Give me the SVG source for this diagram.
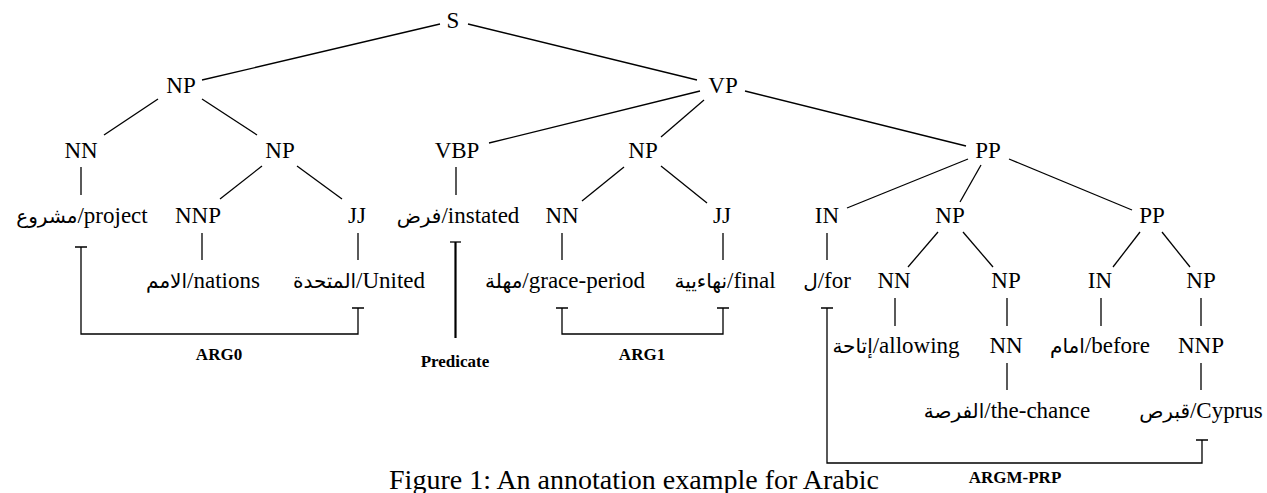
<svg xmlns="http://www.w3.org/2000/svg" width="1267" height="493" viewBox="0 0 1267 493">
<style>
.lbl{font-family:"Liberation Serif","Times New Roman",serif;font-size:23px;fill:#000;text-anchor:middle}
.ar{font-family:"DejaVu Sans",sans-serif;font-size:20px}
.role{font-family:"Liberation Serif","Times New Roman",serif;font-size:17px;font-weight:bold;fill:#000;text-anchor:middle}
.cap{font-family:"Liberation Serif","Times New Roman",serif;font-size:28px;fill:#000;text-anchor:middle}
.e{stroke:#000;stroke-width:1.3;fill:none}
.b{stroke:#000;stroke-width:1.3;fill:none}
</style>
<rect width="1267" height="493" fill="#fff"/>
<g id="connectors">
<line class="e" x1="440" y1="24" x2="202" y2="80"/>
<line class="e" x1="468" y1="24" x2="697" y2="80"/>
<line class="e" x1="158" y1="99" x2="104" y2="135"/>
<line class="e" x1="202" y1="99" x2="257" y2="135"/>
<line class="e" x1="700" y1="91" x2="489" y2="143"/>
<line class="e" x1="704" y1="100" x2="661" y2="137"/>
<line class="e" x1="745" y1="91" x2="966" y2="146"/>
<line class="e" x1="81" y1="167" x2="81" y2="195"/>
<line class="e" x1="262" y1="166" x2="220" y2="199"/>
<line class="e" x1="297" y1="166" x2="342" y2="199"/>
<line class="e" x1="456" y1="167" x2="456" y2="195"/>
<line class="e" x1="624" y1="167" x2="582" y2="201"/>
<line class="e" x1="661" y1="166" x2="707" y2="203"/>
<line class="e" x1="968" y1="159" x2="847" y2="208"/>
<line class="e" x1="981" y1="165" x2="960" y2="202"/>
<line class="e" x1="1009" y1="159" x2="1132" y2="210"/>
<line class="e" x1="202" y1="233" x2="202" y2="260"/>
<line class="e" x1="358" y1="233" x2="358" y2="260"/>
<line class="e" x1="562" y1="233" x2="562" y2="260"/>
<line class="e" x1="723" y1="233" x2="723" y2="260"/>
<line class="e" x1="827" y1="233" x2="827" y2="260"/>
<line class="e" x1="938" y1="232" x2="908" y2="267"/>
<line class="e" x1="963" y1="232" x2="993" y2="267"/>
<line class="e" x1="1140" y1="232" x2="1113" y2="267"/>
<line class="e" x1="1162" y1="232" x2="1190" y2="267"/>
<line class="e" x1="895" y1="298" x2="895" y2="326"/>
<line class="e" x1="1007" y1="298" x2="1007" y2="326"/>
<line class="e" x1="1101" y1="298" x2="1101" y2="326"/>
<line class="e" x1="1201" y1="298" x2="1201" y2="326"/>
<line class="e" x1="1007" y1="363" x2="1007" y2="390"/>
<line class="e" x1="1201" y1="363" x2="1201" y2="390"/>
</g>
<g id="brackets">
<path class="b" d="M75,247 H87 M81,247 V334 H358 V308 M352,308 H364"/>
<path d="M450,242 H461" stroke="#000" stroke-width="1.3" fill="none"/>
<line x1="455.5" y1="242" x2="455.5" y2="338" stroke="#000" stroke-width="2.2"/>
<path class="b" d="M556,308 H568 M562,308 V334 H723 V308 M717,308 H729"/>
<path class="b" d="M821,308 H833 M827,308 V463 H1202 V440 M1196,440 H1208"/>
</g>
<g id="n-S"><text class="lbl" x="453" y="28">S</text></g>
<g id="n-NP1"><text class="lbl" x="181" y="93">NP</text></g>
<g id="n-VP"><text class="lbl" x="723" y="93">VP</text></g>
<g id="n-NN1"><text class="lbl" x="81" y="158">NN</text></g>
<g id="n-NP2"><text class="lbl" x="280" y="158">NP</text></g>
<g id="n-VBP"><text class="lbl" x="457" y="158">VBP</text></g>
<g id="n-NP3"><text class="lbl" x="643" y="158">NP</text></g>
<g id="n-PP1"><text class="lbl" x="988" y="158">PP</text></g>
<g id="w-project"><text class="lbl" x="82" y="223"><tspan class="ar">مشروع</tspan>/project</text></g>
<g id="n-NNP1"><text class="lbl" x="198" y="223">NNP</text></g>
<g id="n-JJ1"><text class="lbl" x="357" y="223">JJ</text></g>
<g id="w-instated"><text class="lbl" x="458" y="223"><tspan class="ar">فرض</tspan>/instated</text></g>
<g id="n-NN2"><text class="lbl" x="562" y="223">NN</text></g>
<g id="n-JJ2"><text class="lbl" x="722" y="223">JJ</text></g>
<g id="n-IN1"><text class="lbl" x="827" y="223">IN</text></g>
<g id="n-NP4"><text class="lbl" x="950" y="223">NP</text></g>
<g id="n-PP2"><text class="lbl" x="1152" y="223">PP</text></g>
<g id="w-nations"><text class="lbl" x="203" y="288"><tspan class="ar">الامم</tspan>/nations</text></g>
<g id="w-united"><text class="lbl" x="359" y="288"><tspan class="ar">المتحدة</tspan>/United</text></g>
<g id="w-grace"><text class="lbl" x="565" y="288"><tspan class="ar">مهلة</tspan>/grace-period</text></g>
<g id="w-final"><text class="lbl" x="725" y="288"><tspan class="ar">نهاءيية</tspan>/final</text></g>
<g id="w-for"><text class="lbl" x="827" y="288"><tspan class="ar">ل</tspan>/for</text></g>
<g id="n-NN3"><text class="lbl" x="894" y="288">NN</text></g>
<g id="n-NP5"><text class="lbl" x="1006" y="288">NP</text></g>
<g id="n-IN2"><text class="lbl" x="1100" y="288">IN</text></g>
<g id="n-NP6"><text class="lbl" x="1201" y="288">NP</text></g>
<g id="w-allowing"><text class="lbl" x="896" y="353"><tspan class="ar">إتاحة</tspan>/allowing</text></g>
<g id="n-NN4"><text class="lbl" x="1006" y="353">NN</text></g>
<g id="w-before"><text class="lbl" x="1100" y="353"><tspan class="ar">امام</tspan>/before</text></g>
<g id="n-NNP2"><text class="lbl" x="1201" y="353">NNP</text></g>
<g id="w-chance"><text class="lbl" x="1007" y="418"><tspan class="ar">الفرصة</tspan>/the-chance</text></g>
<g id="w-cyprus"><text class="lbl" x="1201" y="418"><tspan class="ar">قبرص</tspan>/Cyprus</text></g>
<g id="roles">
<text class="role" x="219" y="360">ARG0</text>
<text class="role" x="455" y="367">Predicate</text>
<text class="role" x="642" y="360">ARG1</text>
<text class="role" x="1015" y="483">ARGM-PRP</text>
</g>
<text class="cap" x="634" y="489">Figure 1: An annotation example for Arabic</text>
</svg>
